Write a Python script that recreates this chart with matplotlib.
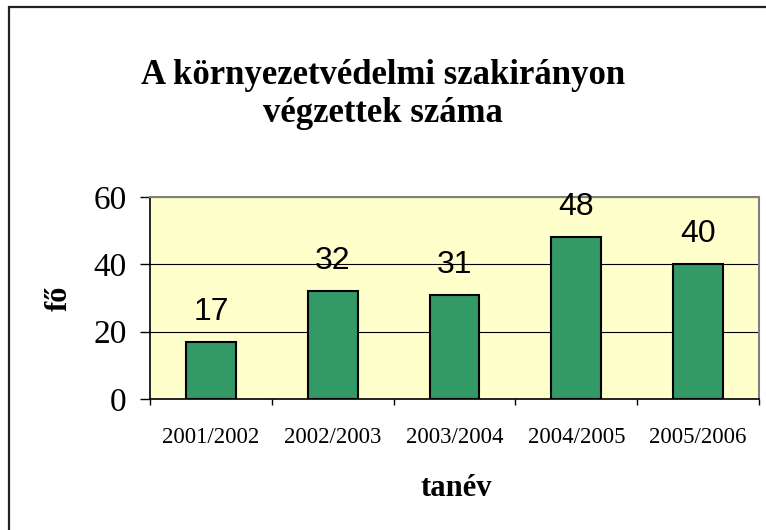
import matplotlib
matplotlib.use("Agg")
import matplotlib.pyplot as plt
from matplotlib.patches import Rectangle

categories = ["2001/2002", "2002/2003", "2003/2004", "2004/2005", "2005/2006"]
values = [17, 32, 31, 48, 40]
yticks = [0, 20, 40, 60]

W, H = 766, 530
fig = plt.figure(figsize=(W / 100, H / 100), dpi=100)
fig.patch.set_facecolor("white")

# outer chart border
fig.add_artist(Rectangle((8.5 / W, -0.05), 1.2, 1 - 6.5 / H + 0.05, transform=fig.transFigure,
                         fill=False, edgecolor="#222222", linewidth=1.6))

l, r, t, b = 150, 759, 197, 399
ax = fig.add_axes([l / W, 1 - b / H, (r - l) / W, (b - t) / H])
ax.set_facecolor("#FFFFCC")

x = list(range(len(categories)))
ax.bar(x, values, width=0.41, color="#339966", edgecolor="black", linewidth=1.5, zorder=3)
for xi, v in zip(x, values):
    ax.text(xi, v + 8.9, str(v), ha="center", va="center", fontsize=23,
            family="Liberation Sans", color="black", zorder=4)

ax.set_xlim(-0.5, len(categories) - 0.5)
ax.set_ylim(0, 60)
ax.set_yticks(yticks)
ax.set_yticklabels([str(v) for v in yticks], family="Liberation Serif", fontsize=24)
ax.yaxis.grid(True, color="black", linewidth=0.8, zorder=1)
ax.tick_params(axis="y", direction="out", length=7, width=1, pad=10)

ax.set_xticks(x)
ax.set_xticklabels(categories, family="Liberation Serif", fontsize=16.5)
ax.set_xticks([i - 0.5 for i in range(len(categories) + 1)], minor=True)
ax.tick_params(axis="x", which="major", length=0, pad=20)
ax.tick_params(axis="x", which="minor", direction="out", length=4.5, width=1)

for s in ["top", "right"]:
    ax.spines[s].set_color("#808080")
    ax.spines[s].set_linewidth(1.5)
for s in ["left", "bottom"]:
    ax.spines[s].set_color("black")
    ax.spines[s].set_linewidth(1.2)

fig.text(383 / W, 1 - 76 / H, "A környezetvédelmi szakirányon", ha="center", va="center",
         family="Liberation Serif", fontweight="bold", fontsize=25)
fig.text(383 / W, 1 - 114 / H, "végzettek száma", ha="center", va="center",
         family="Liberation Serif", fontweight="bold", fontsize=25)
fig.text(59 / W, 1 - 298 / H, "fő", ha="center", va="center", rotation=90,
         family="Liberation Serif", fontweight="bold", fontsize=22)
fig.text(456 / W, 1 - 488 / H, "tanév", ha="center", va="center",
         family="Liberation Serif", fontweight="bold", fontsize=22)

fig.savefig("out.png", dpi=100)
